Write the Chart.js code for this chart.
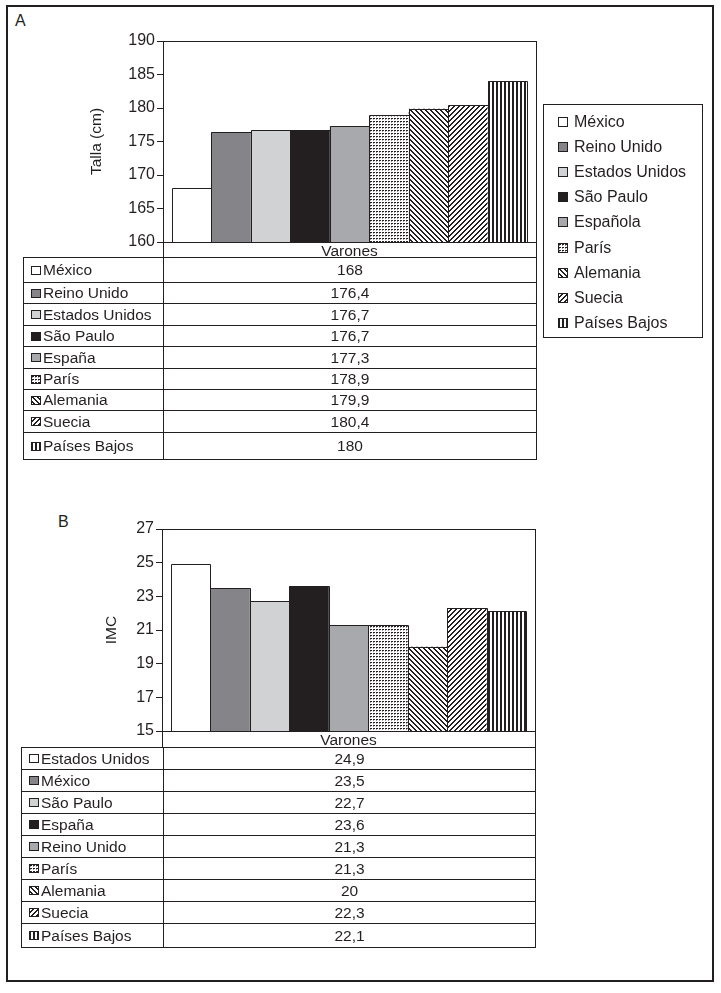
<!DOCTYPE html>
<html lang="es">
<head>
<meta charset="utf-8">
<title>Talla e IMC en varones</title>
<script src="https://cdn.jsdelivr.net/npm/chart.js@4.4.1/dist/chart.umd.min.js"></script>
<style>
  body { margin: 0; background: #fff; font-family: "Liberation Sans", Arial, sans-serif; color: #231f20; }
  #page { position: relative; width: 721px; height: 993px; overflow: hidden; }
  #frame { position: absolute; left: 6px; top: 5px; width: 708px; height: 977px; border: 2px solid #231f20; box-sizing: border-box; }
  .tag { position: absolute; font-size: 16px; line-height: 16px; }
  canvas.chart { position: absolute; left: 0; }
  .catrow { position: absolute; border-left: 1px solid #231f20; border-right: 1px solid #231f20; box-sizing: border-box; }
  .dtable, .legend { position: absolute; font-size: 15.5px; }
  .line { position: absolute; background: #231f20; }
  .cell { position: absolute; display: flex; align-items: center; white-space: nowrap; }
  .cell.val { justify-content: center; }
  .cell canvas { margin-right: 2px; }
  .legend { border: 1px solid #231f20; box-sizing: border-box; font-size: 16px; }
  .legend .item { position: absolute; left: 14px; height: 20px; display: flex; align-items: center; white-space: nowrap; }
  .legend .item canvas { margin-right: 6px; }
</style>
</head>
<body>
<div id="page">
  <div id="frame"></div>
  <div class="tag" style="left:15px; top:13px;">A</div>
  <div class="tag" style="left:58px; top:514px;">B</div>
  <canvas id="chartA" class="chart" width="721" height="270" style="top:0;"></canvas>
  <canvas id="chartB" class="chart" width="721" height="270" style="top:490px;"></canvas>
  <div class="catrow" style="left:163px; top:242px; width:374px; height:16px;"></div>
  <div class="catrow" style="left:162px; top:731px; width:374px; height:17px;"></div>
  <div id="legendA" class="legend" style="left:543px; top:104px; width:160px; height:234px;"></div>
</div>

<script>
// =======================
// Data
// =======================
const category = ['Varones'];

// A - Talla (cm)
const heightNames = ['México', 'Reino Unido', 'Estados Unidos', 'São Paulo', 'España', 'París', 'Alemania', 'Suecia', 'Países Bajos'];
const heightLegendNames = ['México', 'Reino Unido', 'Estados Unidos', 'São Paulo', 'Española', 'París', 'Alemania', 'Suecia', 'Países Bajos'];
const heightValues = [168, 176.4, 176.7, 176.7, 177.3, 178.9, 179.9, 180.4, 184];   // bar heights as drawn
const heightTable = ['168', '176,4', '176,7', '176,7', '177,3', '178,9', '179,9', '180,4', '180']; // as printed
const heightTicks = [160, 165, 170, 175, 180, 185, 190];

// B - IMC
const bmiNames = ['Estados Unidos', 'México', 'São Paulo', 'España', 'Reino Unido', 'París', 'Alemania', 'Suecia', 'Países Bajos'];
const bmiValues = [24.9, 23.5, 22.7, 23.6, 21.3, 21.3, 20, 22.3, 22.1];
const bmiTable = ['24,9', '23,5', '22,7', '23,6', '21,3', '21,3', '20', '22,3', '22,1'];
const bmiTicks = [15, 17, 19, 21, 23, 25, 27];

// fill style by bar position (same order in both panels)
const fillKinds = ['#ffffff', '#858589', '#d1d2d4', '#231f20', '#a7a9ac', 'dots', 'back', 'fwd', 'vert'];
const INK = '#231f20';

Chart.defaults.font.family = '"Liberation Sans", Arial, sans-serif';
Chart.defaults.color = INK;

// =======================
// Hatch / dot patterns
// =======================
function makeFill(ctx, kind) {
    if (kind.startsWith('#')) return kind;
    const t = document.createElement('canvas');
    const c = t.getContext('2d');
    if (kind === 'dots') {
        t.width = 3; t.height = 3;
        c.fillStyle = '#fff'; c.fillRect(0, 0, 3, 3);
        c.fillStyle = INK; c.fillRect(1, 1, 2, 1);
        c.fillStyle = '#999'; c.fillRect(1, 2, 1, 1);
    } else if (kind === 'back' || kind === 'fwd') {
        const s = 5;
        t.width = s; t.height = s;
        c.fillStyle = '#fff'; c.fillRect(0, 0, s, s);
        c.fillStyle = INK;
        for (let i = 0; i < s; i++) {
            const x = kind === 'back' ? i : s - 1 - i;
            c.fillRect(x, i, 1, 1);
            c.fillRect((x + 1) % s, i, 1, 1);
        }
    } else if (kind === 'vert') {
        t.width = 4; t.height = 1;
        c.fillStyle = '#fff'; c.fillRect(0, 0, 4, 1);
        c.fillStyle = INK; c.fillRect(0, 0, 2, 1);
    }
    return ctx.createPattern(t, 'repeat');
}

function swatch(kind, w, h) {
    const cv = document.createElement('canvas');
    cv.width = w; cv.height = h;
    const c = cv.getContext('2d');
    c.fillStyle = makeFill(c, kind);
    c.fillRect(0, 0, w, h);
    c.strokeStyle = INK;
    c.lineWidth = 1;
    c.strokeRect(0.5, 0.5, w - 1, h - 1);
    return cv;
}

// =======================
// Plugins: crisp bar outlines + box round the chart area
// =======================
const barOutline = {
    id: 'barOutline',
    afterDatasetsDraw(chart) {
        const ctx = chart.ctx;
        const area = chart.chartArea;
        ctx.save();
        ctx.strokeStyle = INK;
        ctx.lineWidth = 1;
        ctx.beginPath();
        chart.data.datasets.forEach((ds, i) => {
            chart.getDatasetMeta(i).data.forEach(el => {
                const { x, y, width } = el.getProps(['x', 'y', 'width'], true);
                const l = Math.round(x - width / 2) + 0.5;
                const r = Math.round(x + width / 2) + 0.5;
                const t = Math.round(y) + 0.5;
                const b = Math.round(area.bottom) + 0.5;
                ctx.moveTo(l, b); ctx.lineTo(l, t); ctx.lineTo(r, t); ctx.lineTo(r, b);
            });
        });
        ctx.stroke();
        ctx.restore();
    }
};

const plotFrame = {
    id: 'plotFrame',
    afterDatasetsDraw(chart) {
        const a = chart.chartArea;
        const ctx = chart.ctx;
        ctx.save();
        ctx.strokeStyle = INK;
        ctx.lineWidth = 1;
        ctx.strokeRect(Math.round(a.left) + 0.5, Math.round(a.top) + 0.5,
            Math.round(a.right - a.left), Math.round(a.bottom - a.top));
        ctx.restore();
    }
};

// =======================
// Bar chart builder
// =======================
function buildChart(id, names, values, ticks, title, box) {
    const canvas = document.getElementById(id);
    const ctx = canvas.getContext('2d');
    const padLeft = box.titleX - 9.3;
    const datasets = names.map((name, i) => ({
        label: name,
        data: [values[i]],
        backgroundColor: makeFill(ctx, fillKinds[i]),
        borderWidth: 0,
        barPercentage: 1,
        categoryPercentage: 0.952
    }));
    return new Chart(ctx, {
        type: 'bar',
        data: { labels: category, datasets },
        options: {
            responsive: false,
            animation: false,
            events: [],
            layout: {
                padding: {
                    left: padLeft,
                    right: canvas.width - box.right,
                    top: box.top,
                    bottom: canvas.height - box.bottom - 16
                }
            },
            plugins: { legend: { display: false }, tooltip: { enabled: false } },
            scales: {
                x: {
                    grid: { display: false, drawTicks: false },
                    border: { display: false },
                    ticks: { padding: 0, font: { size: 15.5 }, color: INK },
                    afterFit: s => { s.height = 16; }
                },
                y: {
                    min: ticks[0],
                    max: ticks[ticks.length - 1],
                    ticks: { stepSize: ticks[1] - ticks[0], padding: 2, font: { size: 16 }, color: INK },
                    grid: { display: true, drawOnChartArea: false, drawTicks: true, tickLength: 6, color: INK },
                    border: { display: false },
                    title: { display: true, text: title, font: { size: 15.5 }, color: INK, padding: 0 },
                    afterFit: s => { s.width = box.left - padLeft; }
                }
            }
        },
        plugins: [barOutline, plotFrame]
    });
}

// =======================
// Data table under each chart
// =======================
function buildTable(x, y, width, divider, rowHeights, names, texts, swatchH) {
    const host = document.getElementById('page');
    const total = rowHeights.reduce((a, b) => a + b, 0);
    const box = document.createElement('div');
    box.className = 'dtable';
    Object.assign(box.style, { left: x + 'px', top: y + 'px', width: width + 'px', height: (total + 1) + 'px' });

    const line = (l, t, w, h) => {
        const d = document.createElement('div');
        d.className = 'line';
        Object.assign(d.style, { left: l + 'px', top: t + 'px', width: w + 'px', height: h + 'px' });
        box.appendChild(d);
    };

    let cy = 0;
    line(0, 0, width, 1);
    names.forEach((name, i) => {
        const h = rowHeights[i];
        const nameCell = document.createElement('div');
        nameCell.className = 'cell';
        Object.assign(nameCell.style, { left: '8px', top: (cy + 1) + 'px', width: (divider - 8) + 'px', height: (h - 1) + 'px' });
        nameCell.appendChild(swatch(fillKinds[i], 10, swatchH));
        nameCell.appendChild(document.createTextNode(name));
        box.appendChild(nameCell);

        const valCell = document.createElement('div');
        valCell.className = 'cell val';
        Object.assign(valCell.style, { left: (divider + 1) + 'px', top: (cy + 1) + 'px', width: (width - divider - 2) + 'px', height: (h - 1) + 'px' });
        valCell.textContent = texts[i];
        box.appendChild(valCell);

        cy += h;
        line(0, cy, width, 1);
    });
    line(0, 0, 1, total + 1);
    line(divider, 0, 1, total + 1);
    line(width - 1, 0, 1, total + 1);
    host.appendChild(box);
}

// =======================
// Legend of panel A
// =======================
function buildLegend(names) {
    const box = document.getElementById('legendA');
    names.forEach((name, i) => {
        const it = document.createElement('div');
        it.className = 'item';
        it.style.top = (7 + 25.1 * i) + 'px';
        it.appendChild(swatch(fillKinds[i], 10, 10));
        it.appendChild(document.createTextNode(name));
        box.appendChild(it);
    });
}

buildChart('chartA', heightLegendNames, heightValues, heightTicks, 'Talla (cm)',
    { left: 163, right: 536, top: 41, bottom: 242, titleX: 97 });
buildChart('chartB', bmiNames, bmiValues, bmiTicks, 'IMC',
    { left: 162, right: 535, top: 39, bottom: 241, titleX: 112 });

buildTable(23, 257, 514, 140, [25, 21, 22, 21, 22, 21, 21, 22, 27], heightNames, heightTable, 9);
buildTable(21, 747, 515, 142, [22, 22, 22, 22, 22, 22, 22, 22, 24], bmiNames, bmiTable, 9);
buildLegend(heightLegendNames);
</script>
</body>
</html>
